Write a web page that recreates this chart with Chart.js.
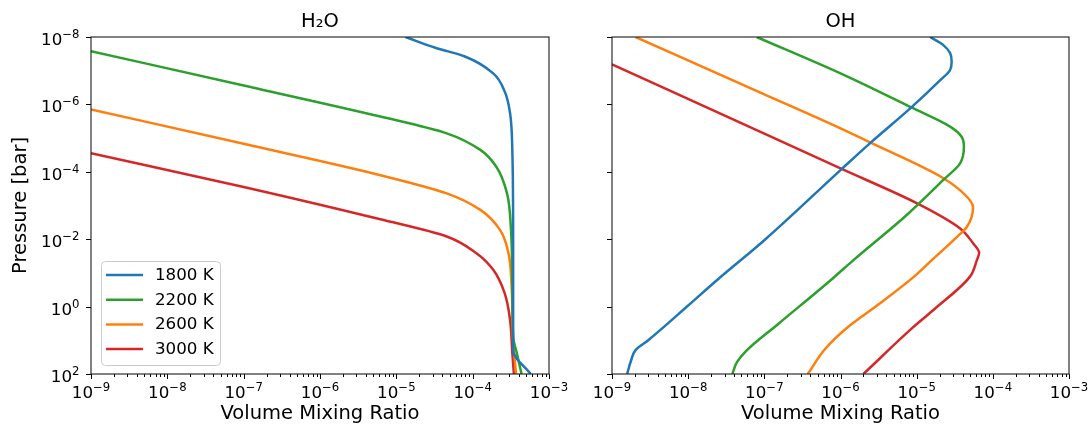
<!DOCTYPE html>
<html>
<head>
<meta charset="utf-8">
<script src="https://cdn.jsdelivr.net/npm/chart.js@4.4.0/dist/chart.umd.min.js"></script>
<style>
  html, body { margin: 0; padding: 0; background: #fff; }
  #wrap { position: relative; width: 1091px; height: 428px; overflow: hidden; }
  #wrap canvas { position: absolute; top: 0; }
  #h2oChart { left: 0; }
  #ohChart { left: 580px; }
</style>
</head>
<body>
<div id="wrap">
  <canvas id="h2oChart" width="590" height="428"></canvas>
  <canvas id="ohChart" width="511" height="428"></canvas>
</div>
<script>
// temperatures and colours
const temps = ['1800 K', '2200 K', '2600 K', '3000 K'];
const colors = ['#1f77b4', '#2ca02c', '#ff7f0e', '#d62728'];

// axis ticks
const xMajor = [1e-9, 1e-8, 1e-7, 1e-6, 1e-5, 1e-4, 1e-3];
const xExps = ['\u22129', '\u22128', '\u22127', '\u22126', '\u22125', '\u22124', '\u22123'];
const yMajor = [1e-8, 1e-6, 1e-4, 1e-2, 1, 1e2];
const yExps = ['\u22128', '\u22126', '\u22124', '\u22122', '0', '2'];

// H2O: pressure [bar] and volume mixing ratio
const h2oP1800 = [1e-8, 2.09e-8, 3.72e-8, 1.2e-7, 4.17e-7, 1.82e-6, 2.5e-5, 1e-2, 20, 100];
const h2oX1800 = [1.32e-5, 3.24e-5, 7.76e-5, 1.86e-4, 2.63e-4, 3.09e-4, 3.31e-4, 3.39e-4, 3.39e-4, 5.75e-4];
const h2oP2200 = [2.63e-8, 2.75e-7, 2.29e-6, 7.24e-6, 2.24e-5, 7.08e-5, 4.37e-4, 4.27e-3, 0.257, 7.9, 24.5, 100];
const h2oX2200 = [1e-9, 1e-7, 6.17e-6, 4.57e-5, 1.26e-4, 2.04e-4, 2.82e-4, 3.16e-4, 3.31e-4, 3.39e-4, 3.8e-4, 4.37e-4];
const h2oP2600 = [1.41e-6, 1.48e-5, 1.26e-4, 4.37e-4, 1.35e-3, 5.37e-3, 2.63e-2, 0.257, 10, 100];
const h2oX2600 = [1e-9, 1e-7, 6.17e-6, 4.57e-5, 1.26e-4, 2.29e-4, 2.95e-4, 3.24e-4, 3.39e-4, 3.7e-4];
const h2oP3000 = [2.82e-5, 2.82e-4, 2.57e-3, 8.32e-3, 2.63e-2, 8.13e-2, 0.407, 2.51, 24.5, 100];
const h2oX3000 = [1e-9, 1e-7, 6.17e-6, 4.57e-5, 1.12e-4, 1.86e-4, 2.63e-4, 3.09e-4, 3.31e-4, 3.47e-4];

// OH
const ohP1800 = [1e-8, 1.74e-8, 3.02e-8, 5.37e-8, 9.55e-8, 1.91e-7, 1.23e-6, 1.41e-5, 8.91e-5, 1.07e-2, 0.162, 0.93, 9.77, 19.5, 39.8, 100];
const ohX1800 = [1.5e-5, 2.24e-5, 2.75e-5, 2.88e-5, 2.75e-5, 2.04e-5, 8.51e-6, 2.45e-6, 1e-6, 1e-7, 2.4e-8, 1e-8, 3.02e-9, 2.04e-9, 1.78e-9, 1.58e-9];
const ohP2200 = [1e-8, 1.2e-7, 1.23e-6, 4.57e-6, 9.12e-6, 1.82e-5, 5.62e-5, 1.74e-4, 1.91e-3, 4.17e-2, 0.151, 3.16, 21.9, 44.7, 100];
const ohX2200 = [7.94e-8, 1e-6, 8.51e-6, 2.75e-5, 3.89e-5, 4.17e-5, 3.72e-5, 2.24e-5, 7.41e-6, 1.48e-6, 7.76e-7, 1.55e-7, 5.62e-8, 4.37e-8, 3.8e-8];
const ohP2600 = [1e-8, 5.01e-7, 5.13e-6, 1.41e-5, 1.55e-4, 5.5e-4, 1.12e-3, 4.27e-3, 8.51e-3, 4.17e-2, 0.138, 0.794, 4.37, 17.8, 100];
const ohX2600 = [2.04e-9, 1e-7, 1e-6, 2.57e-6, 2.24e-5, 4.57e-5, 5.5e-5, 4.57e-5, 3.39e-5, 1.58e-5, 8.91e-6, 3.31e-6, 1.2e-6, 6.31e-7, 3.72e-7];
const ohP3000 = [6.46e-8, 7.41e-6, 7.94e-5, 8.51e-4, 4.79e-3, 1.32e-2, 2.51e-2, 4.17e-2, 0.129, 1.26, 4.37, 100];
const ohX3000 = [1e-9, 1e-7, 1e-6, 1e-5, 3.72e-5, 5.5e-5, 6.61e-5, 6.17e-5, 5.01e-5, 1.66e-5, 8.71e-6, 2.0e-6];

const FONT = "'DejaVu Sans', sans-serif";

function toPoints(xs, ps) {
    return xs.map((v, i) => ({ x: v, y: ps[i] }));
}

// "10" with a raised exponent, like matplotlib mathtext
function drawPow(ctx, exp, x, baseline, align) {
    ctx.font = '16.7px ' + FONT;
    const wBase = ctx.measureText('10').width;
    ctx.font = '11.7px ' + FONT;
    const wExp = ctx.measureText(exp).width;
    const total = wBase + wExp;
    let left = align === 'center' ? x - total / 2 : x - total;
    ctx.textAlign = 'left';
    ctx.textBaseline = 'alphabetic';
    ctx.font = '16.7px ' + FONT;
    ctx.fillText('10', left, baseline);
    ctx.font = '11.7px ' + FONT;
    ctx.fillText(exp, left + wBase, baseline - 7);
}

const axesDecor = {
    id: 'axesDecor',
    afterDatasetsDraw(chart, args, opts) {
        const { ctx, chartArea: a, scales: { x, y } } = chart;
        ctx.save();
        ctx.strokeStyle = '#000';
        ctx.fillStyle = '#000';
        ctx.lineWidth = 1;

        // tick marks
        ctx.beginPath();
        xMajor.forEach((v, i) => {
            const px = Math.round(x.getPixelForValue(v)) + 0.5;
            ctx.moveTo(px, a.bottom); ctx.lineTo(px, a.bottom + 5);
            if (i < xMajor.length - 1) {
                for (let m = 2; m <= 9; m++) {
                    const pm = Math.round(x.getPixelForValue(v * m)) + 0.5;
                    ctx.moveTo(pm, a.bottom); ctx.lineTo(pm, a.bottom + 3);
                }
            }
        });
        yMajor.forEach(v => {
            const py = Math.round(y.getPixelForValue(v)) + 0.5;
            ctx.moveTo(a.left, py); ctx.lineTo(a.left - 5, py);
        });
        ctx.stroke();

        // frame
        ctx.lineWidth = 1.1;
        ctx.strokeStyle = '#1a1a1a';
        ctx.strokeRect(a.left, a.top, a.right - a.left, a.bottom - a.top);

        // tick labels
        xMajor.forEach((v, i) => drawPow(ctx, xExps[i], x.getPixelForValue(v), a.bottom + 24, 'center'));
        if (opts.yLabels) {
            yMajor.forEach((v, i) => drawPow(ctx, yExps[i], a.left - 11.5, y.getPixelForValue(v) + 8, 'right'));
        }

        // legend
        if (opts.legend) {
            const bx = a.left + 10, by = a.bottom - 113, bw = 119, bh = 104;
            ctx.beginPath();
            if (ctx.roundRect) ctx.roundRect(bx + 0.5, by + 0.5, bw, bh, 4);
            else ctx.rect(bx + 0.5, by + 0.5, bw, bh);
            ctx.fillStyle = 'rgba(255,255,255,0.8)';
            ctx.fill();
            ctx.strokeStyle = '#cccccc';
            ctx.lineWidth = 1;
            ctx.stroke();
            chart.data.datasets.forEach((ds, i) => {
                const ly = by + 14 + i * 24.7;
                ctx.beginPath();
                ctx.strokeStyle = ds.borderColor;
                ctx.lineWidth = 2.5;
                ctx.moveTo(bx + 5, ly); ctx.lineTo(bx + 42, ly);
                ctx.stroke();
                ctx.fillStyle = '#000';
                ctx.font = '16.7px ' + FONT;
                ctx.textAlign = 'left';
                ctx.textBaseline = 'middle';
                ctx.fillText(ds.label, bx + 54, ly + 0.5);
            });
        }
        ctx.restore();
    }
};

function makeChart(canvasId, title, series, cfg) {
    return new Chart(document.getElementById(canvasId), {
        type: 'line',
        data: {
            datasets: series.map((s, i) => ({
                label: temps[i],
                data: toPoints(s[0], s[1]),
                borderColor: colors[i],
                backgroundColor: colors[i],
                borderWidth: 2.5,
                pointRadius: 0,
                fill: false,
                cubicInterpolationMode: 'monotone',
                clip: 0
            }))
        },
        options: {
            responsive: false,
            animation: false,
            indexAxis: 'y',
            layout: { padding: { left: 0, right: cfg.padRight, top: 0, bottom: 0 } },
            plugins: {
                legend: { display: false },
                tooltip: { enabled: false },
                title: {
                    display: true,
                    text: title,
                    fullSize: false,
                    color: '#000',
                    font: { family: FONT, size: 19.5, weight: 'normal' },
                    padding: { top: 10, bottom: 3.6 }
                },
                axesDecor: { yLabels: cfg.yLabels, legend: cfg.legend }
            },
            scales: {
                x: {
                    type: 'logarithmic',
                    position: 'bottom',
                    min: 1e-9,
                    max: 1e-3,
                    ticks: { display: false },
                    grid: { display: false },
                    border: { display: false },
                    title: {
                        display: true,
                        text: 'Volume Mixing Ratio',
                        color: '#000',
                        font: { family: FONT, size: 19.5 },
                        padding: { top: 0, bottom: 2 }
                    },
                    afterFit: s => { s.height = 54; }
                },
                y: {
                    type: 'logarithmic',
                    position: 'left',
                    reverse: true,
                    min: 1e-8,
                    max: 1e2,
                    ticks: { display: false },
                    grid: { display: false },
                    border: { display: false },
                    title: {
                        display: cfg.yLabels,
                        text: 'Pressure [bar]',
                        color: '#000',
                        font: { family: FONT, size: 19.5 },
                        padding: { top: 9, bottom: 0 }
                    },
                    afterFit: s => { s.width = cfg.yWidth; }
                }
            }
        },
        plugins: [axesDecor]
    });
}

makeChart('h2oChart', 'H\u2082O',
    [[h2oX1800, h2oP1800], [h2oX2200, h2oP2200], [h2oX2600, h2oP2600], [h2oX3000, h2oP3000]],
    { yWidth: 91, padRight: 41, yLabels: true, legend: true });

makeChart('ohChart', 'OH',
    [[ohX1800, ohP1800], [ohX2200, ohP2200], [ohX2600, ohP2600], [ohX3000, ohP3000]],
    { yWidth: 32, padRight: 22, yLabels: false, legend: false });
</script>
</body>
</html>
